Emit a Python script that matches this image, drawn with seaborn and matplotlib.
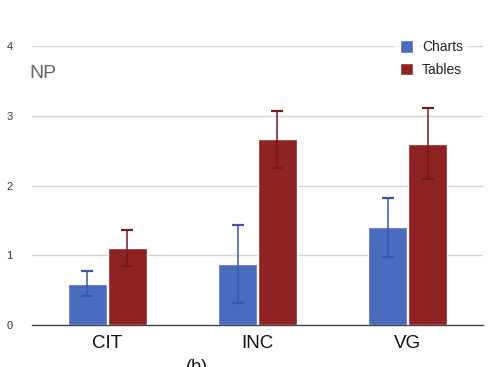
import numpy as np
import pandas as pd
import seaborn as sns
import matplotlib.pyplot as plt

categories = ["CIT", "INC", "VG"]
conditions = ["Charts", "Tables"]
charts_mean = [0.59, 0.87, 1.40]
charts_err = [0.18, 0.56, 0.42]
tables_mean = [1.10, 2.66, 2.60]
tables_err = [0.26, 0.41, 0.51]

colors = {"Charts": "#4a6bbe", "Tables": "#8f2323"}
err_colors = {"Charts": "#3a56a6", "Tables": "#6e1c1c"}

df = pd.DataFrame({
    "group": categories * 2,
    "cond": ["Charts"] * 3 + ["Tables"] * 3,
    "mean": charts_mean + tables_mean,
    "err": charts_err + tables_err,
})

sns.set_style("white")
plt.rcParams["font.family"] = ["Liberation Sans", "DejaVu Sans"]

fig = plt.figure(figsize=(5.02, 3.67), dpi=100)
ax = fig.add_axes([0.064, 0.1144, 0.898, 0.7603])

sns.barplot(data=df, x="group", y="mean", hue="cond", order=categories,
            hue_order=conditions, palette=colors, errorbar=None,
            width=0.53, gap=0.025, saturation=1, ax=ax)

# error bars on top of the seaborn bars
for cont, cond in zip(ax.containers, conditions):
    sub = df[df.cond == cond].set_index("group").loc[categories]
    xs = [p.get_x() + p.get_width() / 2 for p in cont.patches]
    ax.errorbar(xs, sub["mean"], yerr=sub["err"], fmt="none",
                ecolor=err_colors[cond], elinewidth=1.1, capsize=4,
                capthick=1.6)

ax.set_xlim(-0.5, 2.5)
ax.set_ylim(0, 4)
ax.set_yticks([0, 1, 2, 3, 4])
ax.yaxis.grid(True, color="#d4d4d4", linewidth=1)
ax.set_axisbelow(True)
for s in ["top", "right", "left"]:
    ax.spines[s].set_visible(False)
ax.spines["bottom"].set_color("#444444")
ax.spines["bottom"].set_linewidth(1)
ax.tick_params(axis="y", length=0, pad=14, labelsize=8, labelcolor="#333333")
ax.tick_params(axis="x", length=0, pad=7, labelsize=13.5, labelcolor="#111111")
ax.set_xlabel("")
ax.set_ylabel("")

ax.text(-0.005, 0.9, "NP", transform=ax.transAxes, fontsize=14,
        color="#666666", va="center", ha="left")

leg = ax.legend(loc="upper right", bbox_to_anchor=(0.98, 1.06), frameon=True,
                fontsize=10, handlelength=1.0, handleheight=1.0,
                handletextpad=0.6, labelspacing=0.6, borderpad=0.3)
leg.get_frame().set_facecolor("white")
leg.get_frame().set_edgecolor("white")
for t in leg.get_texts():
    t.set_color("#222222")

fig.text(0.37, 0.0, "(b)", fontsize=13, color="#111111", ha="left", va="center")

fig.savefig("out.png", dpi=100)
